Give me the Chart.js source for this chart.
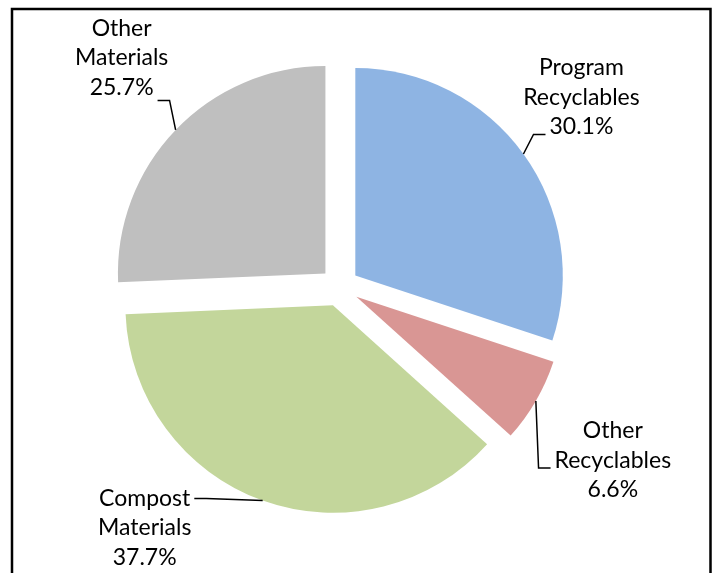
<!DOCTYPE html>
<html>
<head>
<meta charset="utf-8">
<title>Material shares</title>
<script src="https://cdn.jsdelivr.net/npm/chart.js@4/dist/chart.umd.min.js"></script>
<style>
  html, body { margin: 0; padding: 0; background: #fff; }
  #wrap { width: 713px; height: 573px; }
</style>
</head>
<body>
<div id="wrap"><canvas id="pie" width="713" height="573"></canvas></div>
<script>
// data
var categories = ['Program Recyclables', 'Other Recyclables', 'Compost Materials', 'Other Materials'];
var shares = [30.1, 6.6, 37.7, 25.7];
var labelLines = [['Program', 'Recyclables'], ['Other', 'Recyclables'], ['Compost', 'Materials'], ['Other', 'Materials']];
var sliceColors = ['#8EB4E3', '#D99694', '#C3D69B', '#BFBFBF'];

// layout (px)
var explode = 19.5;
var lineGap = 29.5;
var labelFont = '23px Lato';
// label centre (middle line baseline) from the leader anchor, and where the leader meets the text
var labelLayout = [
  { dx: 58, dy: -49, line: 2, side: 'left', ay: 0 },
  { dx: 77, dy: 67, line: 1, side: 'left', ay: 0 },
  { dx: -118, dy: 34.5, line: 0, side: 'right', ay: -7 },
  { dx: -54, dy: -64.5, line: 2, side: 'right', ay: 5.5 }
];

/** pulls each slice away from the centre, like an exploded pie */
var explodePlugin = {
  id: 'explode',
  afterDatasetUpdate: function (chart, args) {
    var meta = chart.getDatasetMeta(args.index);
    meta.data.forEach(function (arc) {
      var mid = (arc.startAngle + arc.endAngle) / 2;
      arc.x += Math.cos(mid) * explode;
      arc.y += Math.sin(mid) * explode;
    });
  }
};

var labelPlugin = {
  id: 'sliceLabels',
  afterDraw: function (chart) {
    var ctx = chart.ctx;
    var arcs = chart.getDatasetMeta(0).data;
    ctx.save();

    // frame
    ctx.strokeStyle = '#000';
    ctx.lineWidth = 2.5;
    ctx.beginPath();
    ctx.moveTo(12, 580);
    ctx.lineTo(12, 9);
    ctx.lineTo(710.5, 9);
    ctx.lineTo(710.5, 580);
    ctx.stroke();

    ctx.font = labelFont;
    ctx.fillStyle = '#000';
    ctx.textAlign = 'center';
    ctx.textBaseline = 'alphabetic';
    ctx.lineWidth = 1.5;

    arcs.forEach(function (arc, i) {
      var mid = (arc.startAngle + arc.endAngle) / 2;
      var ax = arc.x + Math.cos(mid) * arc.outerRadius;
      var ay = arc.y + Math.sin(mid) * arc.outerRadius;
      var lay = labelLayout[i];
      var cx = ax + lay.dx;
      var top = ay + lay.dy - lineGap;
      var lines = labelLines[i].concat([shares[i].toFixed(1) + '%']);
      lines.forEach(function (t, k) {
        ctx.fillText(t, cx, top + k * lineGap);
      });

      var w = ctx.measureText(lines[lay.line]).width;
      var px = lay.side === 'left' ? cx - w / 2 - 4 : cx + w / 2 + 4;
      var py = top + lay.line * lineGap + lay.ay;
      var ex = lay.side === 'left' ? px - 12 : px + 12;
      ctx.beginPath();
      ctx.moveTo(ax, ay);
      ctx.lineTo(ex, py);
      ctx.lineTo(px, py);
      ctx.stroke();
    });
    ctx.restore();
  }
};

new Chart(document.getElementById('pie'), {
  type: 'pie',
  data: {
    labels: categories,
    datasets: [{
      data: shares,
      backgroundColor: sliceColors,
      borderWidth: 0,
      radius: 207.5
    }]
  },
  options: {
    responsive: false,
    animation: false,
    events: [],
    layout: { padding: { left: 0, right: 34, top: 1, bottom: 0 } },
    plugins: {
      legend: { display: false },
      tooltip: { enabled: false }
    }
  },
  plugins: [explodePlugin, labelPlugin]
});
</script>
</body>
</html>
